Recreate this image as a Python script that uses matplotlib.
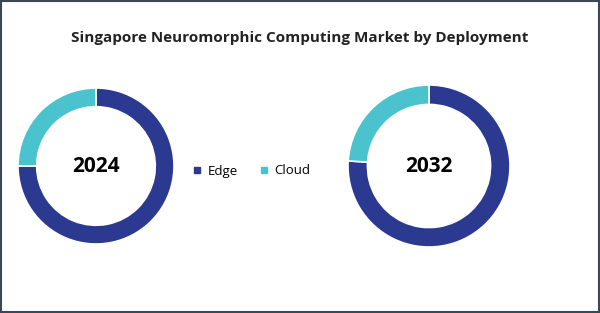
import matplotlib.pyplot as plt
from matplotlib.patches import Rectangle
from matplotlib.lines import Line2D

segments = ['Edge', 'Cloud']
years = ['2024', '2032']
share_2024 = [75, 25]
share_2032 = [76, 24]
colors = ['#2B3990', '#4BC3CE']

W, H = 600, 313


def donut(fig, cx, cy, r, values, label):
    ax = fig.add_axes([(cx - r) / W, (H - cy - r) / H, 2 * r / W, 2 * r / H])
    ax.pie(values, colors=colors, startangle=90, counterclock=False,
           radius=1, wedgeprops=dict(width=0.24, edgecolor='white', linewidth=1.2))
    ax.set_xlim(-1, 1)
    ax.set_ylim(-1, 1)
    ax.set_aspect('equal')
    ax.text(0, 0, label, ha='center', va='center', fontsize=15,
            fontweight='bold', family='Open Sans', color='black')
    ax.axis('off')


fig = plt.figure(figsize=(6, 3.13), dpi=100)
fig.patch.set_facecolor('white')

fig.add_artist(Rectangle((0.002, 0.003), 0.996, 0.994, transform=fig.transFigure,
                         fill=False, edgecolor='#3B4754', linewidth=1.5))

fig.text(0.5, 1 - 38 / H, 'Singapore Neuromorphic Computing Market by Deployment',
         ha='center', va='center', fontsize=11, fontweight='bold',
         family='Open Sans', color='#222222')

donut(fig, 96, 166, 78, share_2024, years[0])
donut(fig, 429, 166, 81, share_2032, years[1])

handles = [Line2D([0], [0], marker='s', ls='', color=c, markersize=5) for c in colors]
fig.legend(handles, segments, loc='center', bbox_to_anchor=(251 / W, 1 - 171 / H),
           ncol=2, frameon=False, handlelength=0.8, handletextpad=0.4,
           columnspacing=1.6, prop={'family': 'Open Sans', 'size': 9.5})

fig.savefig('out.png', dpi=100)
